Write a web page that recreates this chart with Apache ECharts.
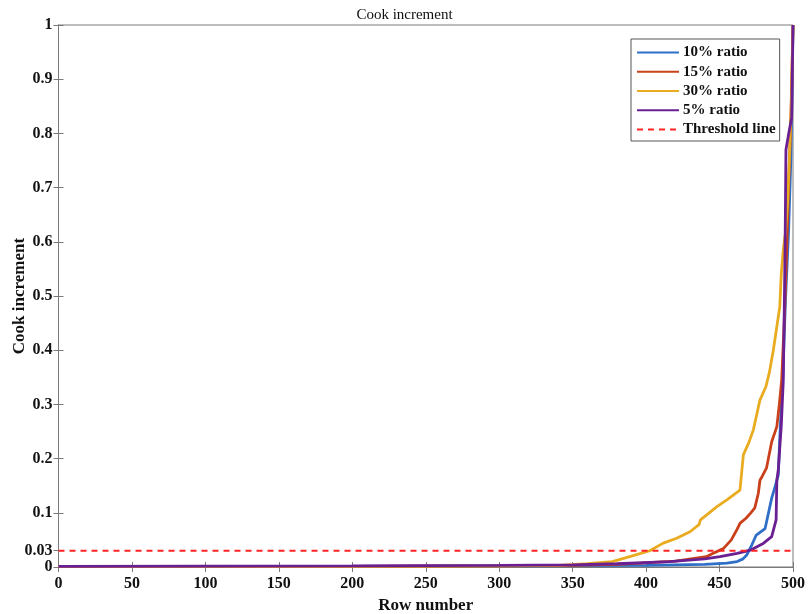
<!DOCTYPE html>
<html>
<head>
<meta charset="utf-8">
<script src="https://cdn.jsdelivr.net/npm/echarts@6/dist/echarts.min.js"></script>
<style>html,body{margin:0;padding:0;background:#fff;}#c{width:809px;height:614px;}</style>
</head>
<body>
<div id="c"></div>
<script>
const seriesNames = ['10% ratio', '15% ratio', '30% ratio', '5% ratio', 'Threshold line'];
const xTicks = [0, 50, 100, 150, 200, 250, 300, 350, 400, 450, 500];
const yTicks = [0, 0.03, 0.1, 0.2, 0.3, 0.4, 0.5, 0.6, 0.7, 0.8, 0.9, 1];
const threshold = 0.03;

const ratio10 = [[0,0.001],[100,0.001],[200,0.001],[300,0.002],[400,0.003],[440,0.005],[455,0.007],[462,0.01],[466,0.015],[468.5,0.022],[470,0.03],[472,0.041],[475,0.059],[478,0.065],[481,0.071],[483,0.096],[485.5,0.127],[488,0.15],[489,0.16],[490,0.17],[491,0.238],[493,0.35],[495,0.5],[497,0.62],[498.5,0.75],[499.5,0.9],[500,1]];
const ratio15 = [[0,0.001],[200,0.001],[300,0.002],[350,0.003],[380,0.005],[396,0.007],[420,0.011],[441,0.019],[447,0.027],[452.6,0.034],[458,0.05],[462,0.07],[464,0.081],[468,0.09],[471,0.099],[474,0.109],[476.4,0.136],[477.5,0.16],[479,0.167],[482,0.183],[485.5,0.231],[489,0.259],[490.7,0.3],[492.3,0.345],[494,0.45],[495.7,0.585],[497,0.7],[498.5,0.82],[500,1]];
const ratio30 = [[0,0.001],[200,0.001],[300,0.002],[340,0.003],[360,0.006],[377,0.01],[390,0.02],[402.5,0.03],[411.7,0.044],[420.8,0.053],[429.9,0.065],[436,0.078],[437,0.087],[448,0.111],[455,0.124],[463.9,0.142],[466.2,0.207],[470,0.23],[473,0.253],[477.5,0.308],[481.6,0.333],[484,0.36],[486.6,0.4],[491,0.48],[492,0.54],[493.4,0.585],[495,0.62],[496.5,0.68],[497.5,0.75],[499,0.87],[500,1]];
const ratio5 = [[0,0.001],[200,0.002],[300,0.003],[350,0.004],[380,0.006],[416,0.01],[440,0.015],[450.3,0.019],[462,0.025],[471,0.031],[480,0.044],[485.5,0.056],[488.5,0.087],[489,0.16],[490,0.18],[492,0.26],[493.4,0.345],[494.6,0.585],[495.2,0.77],[496.8,0.795],[499.1,0.83],[500,1]];
const thresholdLine = [[0, threshold], [500, threshold]];

const colors = ['#2f6fc8', '#c9401a', '#e9ab1f', '#6a1f92', '#ff2424'];
const font = 'Liberation Serif, Times New Roman, serif';
const chart = echarts.init(document.getElementById('c'), null, {renderer: 'canvas'});

function lineSeries(name, data, color) {
  return {name: name, type: 'line', data: data, symbol: 'none', smooth: false,
    lineStyle: {color: color, width: 2.8}, itemStyle: {color: color}, xAxisIndex: 0, yAxisIndex: 0};
}
const lbl = v => (v === 0 ? '0' : v === 1 ? '1' : String(v));

chart.setOption({
  animation: false,
  backgroundColor: '#ffffff',
  title: {text: 'Cook increment', left: 'center', top: 3,
    textStyle: {fontFamily: font, fontSize: 15, fontWeight: 'normal', color: '#111'}},
  grid: {left: 58.5, right: 16, top: 25, bottom: 47, containLabel: false, outerBoundsMode: 'none',
    show: true, borderColor: '#7a7a7a', borderWidth: 1, backgroundColor: '#fff'},
  legend: {
    data: seriesNames, orient: 'vertical', left: 631, top: 39,
    itemWidth: 42, itemHeight: 14, itemGap: 4.25,
    padding: [6, 4, 4, 5], borderColor: '#555', borderWidth: 1, backgroundColor: '#fff',
    itemStyle: {opacity: 0},
    textStyle: {fontFamily: font, fontSize: 15, fontWeight: 'bold', color: '#111', padding: [0, 0, 0, -1]}
  },
  xAxis: [{
    type: 'value', min: 0, max: 500, interval: 50, position: 'bottom',
    name: 'Row number', nameLocation: 'middle', nameGap: 30, nameMoveOverlap: false,
    nameTextStyle: {fontFamily: font, fontSize: 17, fontWeight: 'bold', color: '#111'},
    axisLine: {show: true, lineStyle: {color: '#7a7a7a', width: 1}},
    axisTick: {show: true, inside: true, length: 5, lineStyle: {color: '#7a7a7a'}},
    axisLabel: {fontFamily: font, fontSize: 16, fontWeight: 'bold', color: '#111', margin: 9, formatter: lbl},
    splitLine: {show: false}
  }, {
    type: 'value', min: 0, max: 500, interval: 50, position: 'top',
    axisLine: {show: true, lineStyle: {color: '#7a7a7a', width: 1}},
    axisTick: {show: true, inside: true, length: 5, lineStyle: {color: '#7a7a7a'}},
    axisLabel: {show: false}, splitLine: {show: false}
  }],
  yAxis: [{
    type: 'value', min: 0, max: 1, position: 'left',
    name: 'Cook increment', nameLocation: 'middle', nameGap: 30, nameMoveOverlap: false,
    nameTextStyle: {fontFamily: font, fontSize: 17, fontWeight: 'bold', color: '#111'},
    axisLine: {show: true, lineStyle: {color: '#7a7a7a', width: 1}},
    axisTick: {show: true, inside: true, length: 5, customValues: yTicks, lineStyle: {color: '#7a7a7a'}},
    axisLabel: {fontFamily: font, fontSize: 16, fontWeight: 'bold', color: '#111', margin: 6, customValues: yTicks, formatter: lbl},
    splitLine: {show: false}
  }, {
    type: 'value', min: 0, max: 1, position: 'right',
    axisLine: {show: true, lineStyle: {color: '#7a7a7a', width: 1}},
    axisTick: {show: true, inside: true, length: 5, customValues: yTicks, lineStyle: {color: '#7a7a7a'}},
    axisLabel: {show: false}, splitLine: {show: false}
  }],
  series: [
    lineSeries(seriesNames[0], ratio10, colors[0]),
    lineSeries(seriesNames[1], ratio15, colors[1]),
    lineSeries(seriesNames[2], ratio30, colors[2]),
    lineSeries(seriesNames[3], ratio5, colors[3]),
    {name: seriesNames[4], type: 'line', data: thresholdLine, symbol: 'none',
      lineStyle: {color: colors[4], width: 2, type: [6, 5]}, itemStyle: {color: colors[4]}}
  ]
});
</script>
</body>
</html>
